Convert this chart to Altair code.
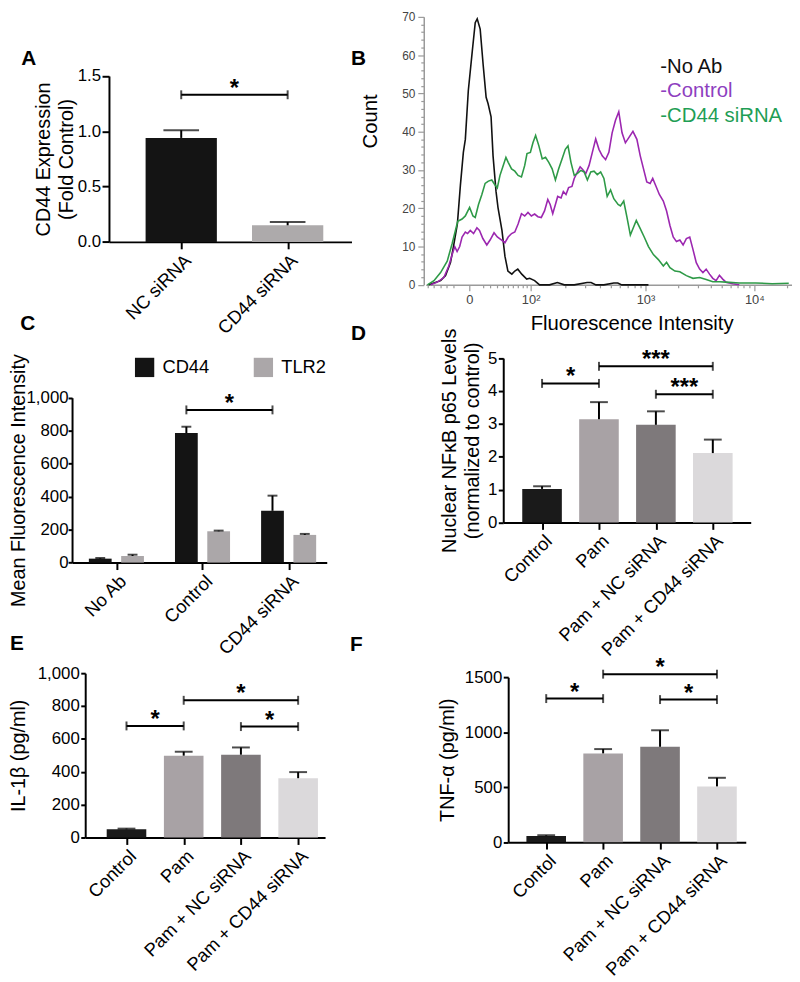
import json
import altair as alt
import pandas as pd

FONT = "Liberation Sans"
W, H = 792, 974          # whole drawing area (page minus the 8px body margin)
M = 8                    # page margin


def sx(v):
    return v - M


def sy(v):
    return v - M


# ---------------------------------------------------------------- Panel A
a_cats = ["NC siRNA", "CD44 siRNA"]
a_mean = [0.94, 0.15]
a_err = [0.07, 0.03]
a_colors = ["#141414", "#adaaab"]
a_sig_from = [0]
a_sig_to = [1]
a_sig_y = [1.33]
a_sig_txt = ["*"]

# ---------------------------------------------------------------- Panel B (flow histogram, log-display channel units)
b_series = ["No Ab", "Control", "CD44 siRNA"]
b_line_colors = ["#111111", "#9c27b0", "#2e9a47"]
b_legend_labels = ["-No Ab", "-Control", "-CD44 siRNA"]
b_legend_colors = ["#111111", "#8e3fbf", "#1f9e55"]

b_noab_ch = [3, 15, 20, 25, 28, 32, 35, 38, 40, 43, 47, 50, 52, 55, 58, 61, 63, 66, 68, 71,
             73, 77, 80, 83, 87, 90, 93, 97, 102, 105, 110, 115, 125, 133, 140, 150, 163,
             167, 172, 180, 190, 194, 198, 205, 225]
b_noab_ct = [0, 1.1, 2.4, 5.8, 10, 16, 26, 34.6, 38, 50.7, 61, 68.5, 69.5, 66.8, 57.5, 49,
             47.3, 43.9, 33.7, 24.4, 20.2, 14.2, 7.5, 3.6, 2.8, 3.6, 4.1, 2.8, 1.5, 1.7, 1.1,
             0, 0, 0.6, 0, 0, 0.6, 0.6, 0, 0, 0.5, 0.5, 0, 0, 0]

b_ctrl_ch = [5, 11.7, 18.3, 23.3, 26.7, 29.3, 31.7, 34.3, 36.7, 40, 42.3, 45, 48.3, 51.7, 54.3,
             57.7, 61.7, 65, 69, 72.3, 76.7, 80, 83.3, 86.7, 90, 93.3, 96.7, 100, 103.3, 106.7,
             110, 113.3, 116.7, 120, 123.3, 125.7, 128.3, 131, 133.3, 136.7, 139, 141.7, 144.3,
             147.7, 150, 153.3, 156, 158.3, 161.7, 165, 168.3, 171.7, 175, 178.3, 181.7, 185,
             188.3, 191.7, 195, 198.3, 201.7, 205, 209.3, 213.3, 216.7, 220, 223.3, 226.7,
             229.3, 232.7, 236, 240, 243.3, 246.7, 250, 253.3, 256.7, 260, 263.3, 266.7, 270,
             273.3, 276.7, 280, 283.3, 286.7, 290, 293.3, 296.7, 300, 303.3, 310, 316.7]
b_ctrl_ct = [0, 0.7, 1.9, 4.9, 7.9, 10, 8.7, 10, 12.5, 13.8, 13.4, 14.2, 13.4, 14.9, 14.2,
             12.1, 10.4, 11.7, 13.6, 12.5, 11.7, 11, 12.5, 13.4, 13.8, 15.9, 18.6, 18, 18.9, 18,
             18.5, 17.8, 17.6, 19.3, 22.3, 21, 18.6, 21, 23.1, 22.7, 24.4, 23.6, 25.4,
             25.7, 27.8, 29.5, 30.8, 30.2, 29.1, 31.2, 34.6, 38.1, 35.4, 33.7, 32.7, 34.6,
             39.7, 43, 45.2, 39.7, 37.1, 38.4, 40.1, 38, 33.7, 30.3, 26.9, 26.5,
             27.8, 25.7, 23.6, 21.9, 19.3, 15.5, 12.5, 11.3, 11.7, 10.4, 12.1, 12.5, 9.2,
             5.8, 4.1, 3.2, 4.1, 2.8, 1.7, 1.1, 2.5, 1.5, 0.7, 0.3, 0]

b_sirna_ch = [1.7, 8.3, 15, 21.7, 26.7, 30, 32.3, 36.7, 40, 44.3, 47.7, 50, 53.3, 56.7, 60,
              63.3, 66.7, 70, 72.3, 75, 78.3, 81, 83.3, 86.7, 90, 93.3, 96.7, 100, 102.3, 105.7,
              108.3, 111, 114.3, 117.7, 121, 124.3, 127.7, 131, 134.3, 137.7, 141, 143.7, 146.7,
              150, 153.3, 156.7, 160, 163.3, 166.7, 170, 173.3, 176.7, 180, 183.3, 186.7, 190,
              194.3, 196.7, 200, 203.3, 206.7, 210, 212.7, 216.7, 220.7, 225, 230, 235, 240,
              243.3, 246.7, 251.7, 256.7, 263.3, 270, 276.7, 283.3, 290, 296.7, 303.3, 316.7,
              333.3, 350, 366.7]
b_sirna_ct = [0, 1.1, 3.2, 6.2, 10.8, 14.2, 16.6, 17.2, 18, 20.2, 18, 17.6, 21, 23.6, 26.5,
              27.1, 27.4, 26.1, 25.3, 28.6, 31.2, 33.3, 32, 30.3, 29.7, 28.6, 28.2, 31.2, 34.3, 34.6,
              37.1, 39, 36.3, 32.9, 33.3, 32, 30.3, 27.4, 30.3, 32.9, 35.4, 36.3, 32,
              28.6, 29.1, 29.9, 29.5, 27.4, 29.5, 29.7, 28.8, 29.5, 27.8, 23.1, 24.8, 22.5,
              21, 20.6, 21.9, 17.6, 13, 15.1, 16.8, 14.7, 12.5, 10, 7.9, 6.6, 4.9,
              5.9, 4.5, 3.6, 3.4, 2.4, 1.7, 1.9, 1.4, 0.8, 0.8, 0.7, 0.5,
              0.5, 0.3, 0.4]

b_major_vals = [44, 106, 222, 332]
b_major_labels = ["0", "10²", "10³", "10⁴"]
b_minor_vals = [2, 8, 15, 21, 28, 58, 65, 72, 78, 83, 88, 93, 98, 102,
                141, 161, 176, 187, 196, 204, 211, 217,
                255, 275, 288, 299, 308, 315, 321, 327, 365]
b_y_major = [0, 10, 20, 30, 40, 50, 60, 70]
b_y_minor = [v for v in range(2, 70, 2) if v % 10]

# ---------------------------------------------------------------- Panel C
c_groups = ["No Ab", "Control", "CD44 siRNA"]
c_series = ["CD44", "TLR2"]
c_colors = ["#141414", "#aba7a9"]
c_cd44_mean = [24, 786, 314]
c_cd44_err = [4, 38, 92]
c_tlr2_mean = [40, 190, 168]
c_tlr2_err = [8, 4, 6]
c_sig_from = [1]
c_sig_to = [2]
c_sig_series = ["CD44"]
c_sig_y = [926]
c_sig_txt = ["*"]

# ---------------------------------------------------------------- Panels D, E, F
d_cats = ["Control", "Pam", "Pam + NC siRNA", "Pam + CD44 siRNA"]
f_cats = ["Contol", "Pam", "Pam + NC siRNA", "Pam + CD44 siRNA"]
def_colors = ["#1a1a1a", "#a8a2a5", "#7e797b", "#dbd9db"]

d_mean = [1.02, 3.14, 2.97, 2.11]
d_err = [0.08, 0.52, 0.41, 0.41]
d_sig_from = [0, 1, 2]
d_sig_to = [1, 3, 3]
d_sig_y = [4.23, 4.75, 3.90]
d_sig_txt = ["*", "***", "***"]

e_mean = [50, 498, 504, 361]
e_err = [4, 24, 44, 37]
e_sig_from = [0, 1, 2]
e_sig_to = [1, 3, 3]
e_sig_y = [679, 835, 675]
e_sig_txt = ["*", "*", "*"]

f_mean = [57, 807, 867, 507]
f_err = [6, 39, 150, 78]
f_sig_from = [0, 1, 2]
f_sig_to = [1, 3, 3]
f_sig_y = [1305, 1527, 1296]
f_sig_txt = ["*", "*", "*"]

# ---------------------------------------------------------------- layout (page pixels)
geoA = dict(axis_x=110, zero_y=239.3, top_y=71.7, ymax=1.5, x_end=355, c0=183, step=107.5,
            bar=72, cap=36, tick=7, lpad=1.5, tpad=1)
geoC = dict(axis_x=72.7, zero_y=563.3, top_y=396.7, ymax=1000, x_end=330, c0=117.5, step=87,
            bar=23, cap=10, tick=4, lpad=0, tpad=-3)
geoD = dict(axis_x=508.3, zero_y=522.7, top_y=356.7, ymax=5, x_end=758.3, c0=547.5, step=57.5,
            bar=40, cap=18, tick=5, lpad=1.5, tpad=5.5)
geoE = dict(axis_x=86, zero_y=841, top_y=675, ymax=1000, x_end=328.3, c0=127.7, step=57.8,
            bar=40, cap=18, tick=4.5, lpad=1.5, tpad=9)
geoF = dict(axis_x=513.3, zero_y=845.7, top_y=679, ymax=1500, x_end=753.3, c0=551.7, step=57.5,
            bar=40, cap=18, tick=5, lpad=1.5, tpad=7)
C_PAIR_GAP = 0.375

AX = dict(domainColor="black", domainWidth=2, tickColor="black", tickWidth=2,
          labelColor="black", labelFont=FONT, titleColor="black",
          titleFont=FONT, titleFontSize=20, titleFontWeight="normal", grid=False,
          labelOverlap=False, labelFlush=False)


def bar_panel(df, color_enc, cats, geo, yvals, yfmt, ytitle, sig):
    n = len(cats)
    d0 = -(geo["c0"] - geo["axis_x"]) / geo["step"]
    d1 = (n - 1) + (geo["x_end"] - geo["c0"] - (n - 1) * geo["step"]) / geo["step"]
    xs = alt.Scale(domain=[d0, d1], range=[sx(geo["axis_x"]), sx(geo["x_end"])],
                   zero=False, nice=False, padding=0)
    ys = alt.Scale(domain=[0, geo["ymax"]], range=[sy(geo["zero_y"]), sy(geo["top_y"])],
                   zero=False, nice=False, padding=0)
    xax = alt.Axis(orient="bottom", offset=sy(geo["zero_y"]) - H, values=list(range(n)),
                   labelExpr=json.dumps(cats) + "[datum.value]", labelAngle=-45,
                   labelAlign="right", labelBaseline="top", labelBound=False, title=None,
                   tickSize=7, labelPadding=2, labelFontSize=18.5, **AX)
    yax = alt.Axis(orient="left", offset=-sx(geo["axis_x"]), values=yvals, format=yfmt,
                   title=ytitle, titlePadding=geo["tpad"], titleLineHeight=23,
                   tickSize=geo["tick"], labelPadding=geo["lpad"], labelFontSize=17, **AX)

    def X(f):
        return alt.X(f, scale=xs, axis=xax)

    def Y(f, **kw):
        return alt.Y(f, scale=ys, axis=yax, **kw)

    base = alt.Chart(df)
    bars = base.mark_bar(orient="vertical", size=geo["bar"]).encode(
        x=X("xpos:Q"), y=Y("mean:Q", stack=None), color=color_enc)
    err = base.mark_rule(color="black", strokeWidth=2).encode(
        x=X("xpos:Q"), y=Y("mean:Q"), y2="top:Q")
    caps = base.mark_tick(orient="horizontal", size=geo["cap"], thickness=2, color="black").encode(
        x=X("xpos:Q"), y=Y("top:Q"))
    sbase = alt.Chart(sig)
    brk = sbase.mark_rule(color="black", strokeWidth=2).encode(
        x=X("x1:Q"), x2="x2:Q", y=Y("yb:Q"))
    ends = sbase.transform_fold(["x1", "x2"], as_=["end", "xe"]).mark_tick(
        orient="vertical", size=9, thickness=2, color="black").encode(
        x=X("xe:Q"), y=Y("yb:Q"))
    stars = sbase.transform_calculate(xm="(datum.x1 + datum.x2) / 2").mark_text(
        font=FONT, fontSize=24, fontWeight="bold", baseline="alphabetic", dy=1, color="black").encode(
        x=X("xm:Q"), y=Y("yb:Q"), text="txt:N")
    return alt.layer(bars, err, caps, brk, ends, stars)


def simple_df(means, errs, colors):
    return pd.DataFrame({"xpos": list(range(len(means))), "mean": means,
                         "top": [m + e for m, e in zip(means, errs)], "color": colors})


def sig_df(f, t, y, txt):
    return pd.DataFrame({"x1": f, "x2": t, "yb": y, "txt": txt})


ident = alt.Color("color:N", scale=None)

# ---------------------------------------------------------------- A
panelA = bar_panel(simple_df(a_mean, a_err, a_colors), ident, a_cats, geoA,
                   [0, 0.5, 1.0, 1.5], ".1f", ["CD44 Expression", "(Fold Control)"],
                   sig_df(a_sig_from, a_sig_to, a_sig_y, a_sig_txt))

# ---------------------------------------------------------------- B
rows = []
for name, chs, cts in [("No Ab", b_noab_ch, b_noab_ct), ("Control", b_ctrl_ch, b_ctrl_ct),
                       ("CD44 siRNA", b_sirna_ch, b_sirna_ct)]:
    rows += [{"series": name, "ch": c, "count": v} for c, v in zip(chs, cts)]
bdf = pd.DataFrame(rows)

GRAY = "#9a9a9a"
bx_scale = alt.Scale(domain=[0, 370], range=[sx(430), sx(800)], zero=False, nice=False, padding=0)
by_scale = alt.Scale(domain=[0, 70], range=[sy(282.7), 4], zero=False, nice=False, padding=0)


def lookup_expr(vals, labels):
    expr = "''"
    for v, l in reversed(list(zip(vals, labels))):
        expr = f"datum.value === {v} ? {json.dumps(l, ensure_ascii=False)} : {expr}"
    return expr


bx_axis = alt.Axis(orient="bottom", offset=sy(282.7) - H, values=b_major_vals,
                   labelExpr=lookup_expr(b_major_vals, b_major_labels),
                   title="Fluorescence Intensity", titleX=sx(638), titleY=sy(322) - sy(282.7),
                   titleBaseline="middle", titleFont=FONT, titleFontSize=20.5,
                   titleFontWeight="normal", titleColor="black",
                   labelFont=FONT, labelFontSize=13, labelColor="#444444", labelPadding=3,
                   domainColor=GRAY, domainWidth=1.5, tickColor=GRAY, tickWidth=1.2, tickSize=6,
                   labelOverlap=False, labelFlush=False, grid=False)
by_axis = alt.Axis(orient="left", offset=-sx(428), values=b_y_major,
                   title="Count", titleX=sx(374) - sx(428), titleY=sy(117),
                   titleBaseline="middle", titleAlign="center", titleFont=FONT, titleFontSize=20.5,
                   titleFontWeight="normal", titleColor="black",
                   labelFont=FONT, labelFontSize=12, labelColor="#444444", labelPadding=3,
                   domainColor=GRAY, domainWidth=1.5, tickColor=GRAY, tickWidth=1.2, tickSize=6,
                   labelOverlap=False, labelFlush=False, grid=False)

b_lines = alt.Chart(bdf).mark_line(strokeWidth=1.6).encode(
    x=alt.X("ch:Q", scale=bx_scale, axis=bx_axis),
    y=alt.Y("count:Q", scale=by_scale, axis=by_axis),
    color=alt.Color("series:N", scale=alt.Scale(domain=b_series, range=b_line_colors), legend=None),
)
b_minor_x = alt.Chart(bdf).mark_point(opacity=0).encode(
    x=alt.X("ch:Q", scale=bx_scale,
            axis=alt.Axis(orient="bottom", offset=sy(282.7) - H, values=b_minor_vals, labels=False,
                          domain=False, title=None, tickSize=3, tickColor=GRAY, tickWidth=1.2, grid=False)))
b_minor_y = alt.Chart(bdf).mark_point(opacity=0).encode(
    y=alt.Y("count:Q", scale=by_scale,
            axis=alt.Axis(orient="left", offset=-sx(428), values=b_y_minor, labels=False,
                          domain=False, title=None, tickSize=3, tickColor=GRAY, tickWidth=1.2, grid=False)))
b_leg = alt.Chart(pd.DataFrame({"label": b_legend_labels, "color": b_legend_colors})).mark_text(
    align="left", baseline="middle", font=FONT, fontSize=20.5).encode(
    x=alt.value(sx(667)),
    y=alt.Y("label:N", sort=b_legend_labels,
            scale=alt.Scale(type="point", domain=b_legend_labels, range=[sy(63), sy(111.7)], padding=0),
            axis=None),
    color=alt.Color("color:N", scale=None),
    text="label:N",
)

# ---------------------------------------------------------------- C
c_rows = []
for si, (s, means, errs) in enumerate([("CD44", c_cd44_mean, c_cd44_err), ("TLR2", c_tlr2_mean, c_tlr2_err)]):
    for gi, g in enumerate(c_groups):
        c_rows.append(dict(group=g, series=s, xpos=gi + (si - 0.5) * C_PAIR_GAP,
                           mean=means[gi], top=means[gi] + errs[gi]))
cdf = pd.DataFrame(c_rows)
c_sig = sig_df([g + (c_series.index(s) - 0.5) * C_PAIR_GAP for g, s in zip(c_sig_from, c_sig_series)],
               [g + (c_series.index(s) - 0.5) * C_PAIR_GAP for g, s in zip(c_sig_to, c_sig_series)],
               c_sig_y, c_sig_txt)
c_color = alt.Color("series:N", scale=alt.Scale(domain=c_series, range=c_colors),
                    legend=alt.Legend(orient="none", legendX=sx(136), legendY=sy(356),
                                      direction="horizontal", title=None, symbolType="square",
                                      symbolSize=380, symbolStrokeWidth=0, symbolOpacity=1,
                                      labelFont=FONT, labelFontSize=18.5, labelColor="black",
                                      labelOffset=8, columnPadding=44))
panelC = bar_panel(cdf, c_color, c_groups, geoC, [0, 200, 400, 600, 800, 1000], ",d",
                   "Mean Fluorescence Intensity", c_sig)

# ---------------------------------------------------------------- D, E, F
panelD = bar_panel(simple_df(d_mean, d_err, def_colors), ident, d_cats, geoD,
                   [0, 1, 2, 3, 4, 5], "d",
                   ["Nuclear NFκB p65 Levels", "(normalized to control)"],
                   sig_df(d_sig_from, d_sig_to, d_sig_y, d_sig_txt))
panelE = bar_panel(simple_df(e_mean, e_err, def_colors), ident, d_cats, geoE,
                   [0, 200, 400, 600, 800, 1000], ",d", "IL-1β (pg/ml)",
                   sig_df(e_sig_from, e_sig_to, e_sig_y, e_sig_txt))
panelF = bar_panel(simple_df(f_mean, f_err, def_colors), ident, f_cats, geoF,
                   [0, 500, 1000, 1500], "d", "TNF-α (pg/ml)",
                   sig_df(f_sig_from, f_sig_to, f_sig_y, f_sig_txt))

# ---------------------------------------------------------------- panel letters
letter_pos = {"A": (29, 55), "B": (362, 55), "C": (28, 322), "D": (362, 332), "E": (17, 646), "F": (360, 647)}
letters = []
for L, (lx, ly) in letter_pos.items():
    letters.append(
        alt.Chart(pd.DataFrame({"t": [L]})).mark_text(
            font=FONT, fontSize=21, fontWeight="bold", align="center", baseline="middle", color="black"
        ).encode(x=alt.value(sx(lx)), y=alt.value(sy(ly)), text="t:N")
    )

chart = alt.layer(
    panelA, b_lines, b_minor_x, b_minor_y, b_leg, panelC, panelD, panelE, panelF, *letters
).resolve_scale(
    x="independent", y="independent", color="independent"
).properties(
    width=W, height=H, padding=0, autosize=alt.AutoSizeParams(type="none")
).configure_view(stroke=None)

chart.save("out.html", embed_options={"renderer": "svg", "actions": False})
